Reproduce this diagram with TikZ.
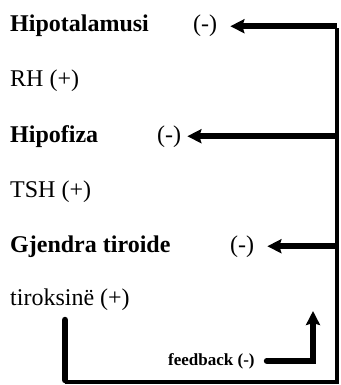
\documentclass[tikz,border=0pt]{standalone}
\usepackage{fontspec}
\setmainfont{Liberation Serif}
\usetikzlibrary{arrows.meta}

\begin{document}
\begin{tikzpicture}[
  x=1pt,y=-1pt,
  every node/.style={inner sep=0pt,anchor=base west,font=\fontsize{24}{28}\selectfont},
  organ/.style={font=\fontsize{24}{28}\selectfont\bfseries},
  fbline/.style={line width=6pt,-{Stealth[length=14pt,width=14pt,inset=2pt]}},
  loopline/.style={line width=4.5pt},
]
  \useasboundingbox (0,0) rectangle (340,385);

  % Axis levels
  \node[organ] (hipot) at (10,32) {Hipotalamusi};
  \node (m1) at (193,32) {(-)};
  \node (rh) at (10,87) {RH (+)};
  \node[organ] (hipof) at (10,142) {Hipofiza};
  \node (m2) at (157,142) {(-)};
  \node (tsh) at (10,197) {TSH (+)};
  \node[organ] (gjendra) at (10,252) {Gjendra tiroide};
  \node (m3) at (230,252) {(-)};
  \node (tirok) at (10,305) {tiroksinë (+)};
  \node[font=\fontsize{17}{20}\selectfont\bfseries] (fbk) at (168,365) {feedback (-)};

  % Loop corners
  \coordinate (lt) at (65,320);
  \coordinate (lb) at (65,382);
  \coordinate (rb) at (337,382);
  \coordinate (ftip) at (313,311);

  % Feedback loop
  \draw[line width=6.5pt,line cap=round] (lt) -- ([yshift=2pt]lb);
  \draw[loopline] (lb) -| ([yshift=-2pt]m1.east -| rb);

  % Negative arrows
  \draw[fbline,shorten >=13pt] (m1.east -| rb) -- (m1.east);
  \draw[fbline,shorten >=6pt] (m2.east -| rb) -- (m2.east);
  \draw[fbline,shorten >=13pt] (m3.east -| rb) -- (m3.east);

  % Feedback label arrow
  \draw[fbline,line cap=round,shorten <=12pt] (fbk.east) -| (ftip);
\end{tikzpicture}
\end{document}
